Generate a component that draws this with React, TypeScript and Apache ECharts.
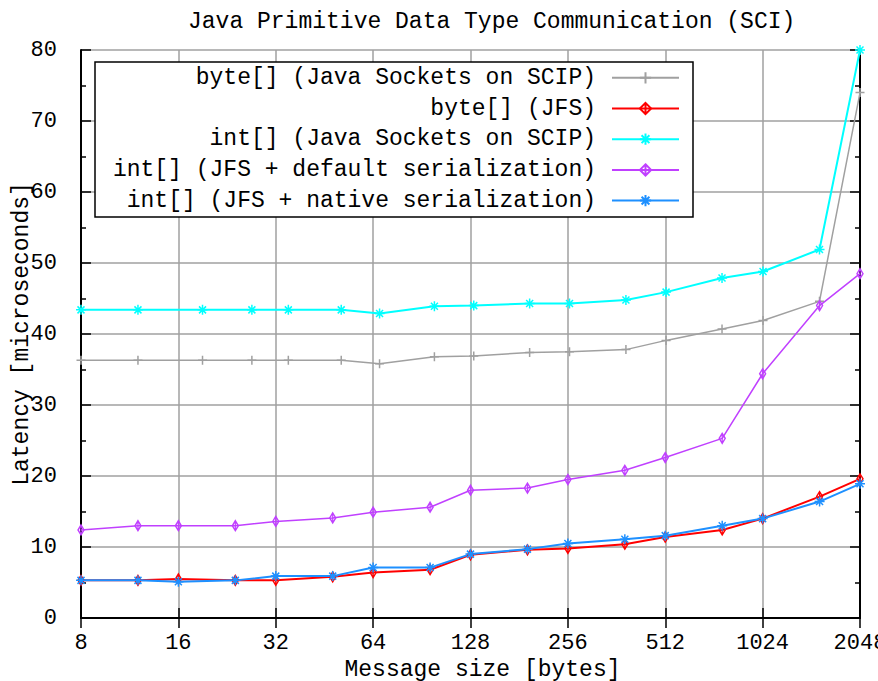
import { useEffect, useRef } from "react";
import * as echarts from "echarts";

// Message sizes (bytes)
const sizesSockets = [8, 12, 19, 27, 35, 51, 67, 99, 131, 195, 259, 387, 515, 767, 1027, 1535, 2048];
const sizesJFS = [8, 12, 16, 24, 32, 48, 64, 96, 128, 192, 256, 384, 512, 768, 1024, 1536, 2048];

// Latency values (microseconds)
const byteSockets = [36.3, 36.3, 36.3, 36.3, 36.3, 36.3, 35.8, 36.8, 36.9, 37.4, 37.5, 37.8, 39.1, 40.7, 41.9, 44.6, 74.0];
const byteJFS = [5.3, 5.3, 5.5, 5.3, 5.3, 5.8, 6.4, 6.8, 8.9, 9.6, 9.8, 10.4, 11.4, 12.4, 14.0, 17.1, 19.6];
const intSockets = [43.4, 43.4, 43.4, 43.4, 43.4, 43.4, 42.9, 43.9, 44.0, 44.3, 44.3, 44.8, 45.9, 47.9, 48.8, 51.9, 80];
const intDefault = [12.4, 13.0, 13.0, 13.0, 13.6, 14.1, 14.9, 15.6, 18.0, 18.3, 19.5, 20.8, 22.6, 25.3, 34.4, 44.0, 48.5];
const intNative = [5.3, 5.3, 5.1, 5.3, 5.9, 5.9, 7.1, 7.1, 9.0, 9.7, 10.5, 11.1, 11.6, 13.0, 14.0, 16.4, 18.9];

const seriesNames = [
  "byte[] (Java Sockets on SCIP)",
  "byte[] (JFS)",
  "int[] (Java Sockets on SCIP)",
  "int[] (JFS + default serialization)",
  "int[] (JFS + native serialization)",
];

const yTicks = { min: 0, max: 80, interval: 10 };
const xRange = { min: 8, max: 2048 };

const FONT = '"Liberation Mono", "DejaVu Sans Mono", monospace';

const PLUS = "path://M5,0L5,10M0,5L10,5";
const STAR = "path://M5,0L5,10M0,5L10,5M1.5,1.5L8.5,8.5M1.5,8.5L8.5,1.5";
const DIAMOND = "path://M3,0L6,5L3,10L0,5ZM3,0L3,10";

function pairs(xs: number[], ys: number[]) {
  return xs.map((x, i) => [x, ys[i]]);
}

export default function App() {
  const ref = useRef<HTMLDivElement>(null);

  useEffect(() => {
    document.body.style.margin = "0";
    if (!ref.current) return;
    const chart = echarts.init(ref.current, undefined, { renderer: "svg" });

    const mk = (
      name: string,
      data: number[][],
      color: string,
      width: number,
      symbol: string,
      symbolSize: number | number[],
      fill: string
    ) => ({
      name,
      type: "line",
      data,
      symbol,
      symbolSize,
      showSymbol: true,
      lineStyle: { color, width },
      itemStyle: { color: fill, borderColor: color, borderWidth: 1.5 },
      emphasis: { disabled: true },
      z: 3,
    });

    const axisLine = { show: true, lineStyle: { color: "#000", width: 2 } };
    const axisTick = { show: true, inside: true, length: 10, lineStyle: { color: "#000", width: 1.5 } };
    const splitLine = { show: true, lineStyle: { color: "#a0a0a0", width: 1.5 } };
    const labelStyle = { fontFamily: FONT, fontSize: 22, color: "#000" };

    chart.setOption({
      animation: false,
      backgroundColor: "#fff",
      title: {
        text: "Java Primitive Data Type Communication (SCI)",
        left: 183,
        top: 5,
        textStyle: { fontFamily: FONT, fontSize: 23, fontWeight: "normal", color: "#000" },
      },
      grid: { left: 81, right: 18, top: 50, bottom: 63, containLabel: false, outerBoundsMode: "none" },
      legend: {
        orient: "vertical",
        left: 95,
        top: 62,
        align: "right",
        itemWidth: 67,
        itemHeight: 14,
        itemGap: 7.7,
        padding: [4.3, 13, 5, 16],
        backgroundColor: "#fff",
        borderColor: "#000",
        borderWidth: 1.5,
        selectedMode: false,
        data: seriesNames,
        textStyle: {
          fontFamily: FONT,
          fontSize: 23,
          color: "#000",
          width: 485,
          lineHeight: 14,
          padding: [0, 11, 0, 0],
        },
      },
      xAxis: [
        {
          type: "log",
          logBase: 2,
          min: xRange.min,
          max: xRange.max,
          position: "bottom",
          axisLine,
          axisTick,
          axisLabel: {
            ...labelStyle,
            margin: 14,
            hideOverlap: false,
            formatter: (v: number) => String(Math.round(v)),
          },
          splitLine,
          minorTick: { show: false },
          name: "Message size [bytes]",
          nameLocation: "middle",
          nameGap: 40,
          nameMoveOverlap: false,
          nameTextStyle: { fontFamily: FONT, fontSize: 23, color: "#000", padding: [0, 0, 0, 24] },
        },
        {
          type: "log",
          logBase: 2,
          min: xRange.min,
          max: xRange.max,
          position: "top",
          axisLine,
          axisTick,
          axisLabel: { show: false },
          splitLine: { show: false },
        },
      ],
      yAxis: [
        {
          type: "value",
          min: yTicks.min,
          max: yTicks.max,
          interval: yTicks.interval,
          position: "left",
          axisLine,
          axisTick,
          minorTick: { show: true, splitNumber: 2, length: 5, lineStyle: { color: "#000", width: 1.5 } },
          axisLabel: { ...labelStyle, margin: 24 },
          splitLine,
          name: "Latency [microseconds]",
          nameLocation: "middle",
          nameGap: 48,
          nameRotate: 90,
          nameMoveOverlap: false,
          nameTextStyle: { fontFamily: FONT, fontSize: 23, color: "#000", padding: [12, 0, 0, 0] },
        },
        {
          type: "value",
          min: yTicks.min,
          max: yTicks.max,
          interval: yTicks.interval,
          position: "right",
          axisLine,
          axisTick,
          minorTick: { show: true, splitNumber: 2, length: 5, lineStyle: { color: "#000", width: 1.5 } },
          axisLabel: { show: false },
          splitLine: { show: false },
        },
      ],
      series: [
        mk(seriesNames[0], pairs(sizesSockets, byteSockets), "#a0a0a0", 1.5, PLUS, 9, "#a0a0a0"),
        mk(seriesNames[1], pairs(sizesJFS, byteJFS), "#ff0000", 2, DIAMOND, [6, 10], "rgba(255,255,255,0)"),
        mk(seriesNames[2], pairs(sizesSockets, intSockets), "#00ffff", 2, STAR, 10, "#00ffff"),
        mk(seriesNames[3], pairs(sizesJFS, intDefault), "#c040ff", 1.5, DIAMOND, [6, 10], "rgba(255,255,255,0)"),
        mk(seriesNames[4], pairs(sizesJFS, intNative), "#1e90ff", 2, STAR, 10, "#1e90ff"),
      ],
    });

    return () => chart.dispose();
  }, []);

  return <div ref={ref} style={{ width: 878, height: 681 }} />;
}
